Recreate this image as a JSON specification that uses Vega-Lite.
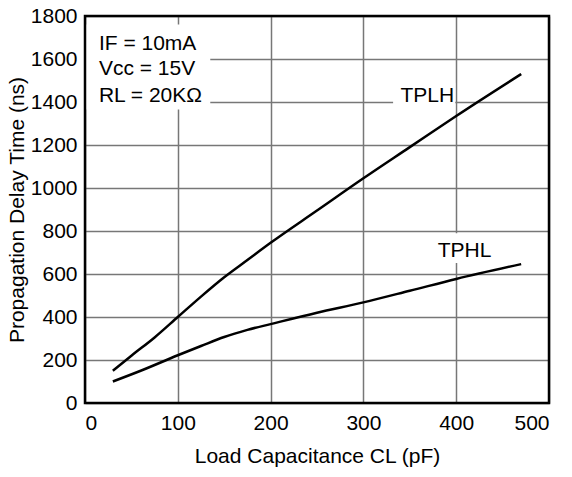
{
  "$schema": "https://vega.github.io/schema/vega-lite/v6.json",
  "autosize": {"type": "none"},
  "width": 464,
  "height": 387,
  "padding": {"left": 85, "top": 16, "right": 23, "bottom": 74},
  "background": "white",
  "config": {
    "view": {"stroke": null},
    "font": "Liberation Sans",
    "axis": {
      "labelFont": "Liberation Sans",
      "titleFont": "Liberation Sans",
      "labelFontSize": 21,
      "titleFontSize": 21,
      "labelColor": "black",
      "titleColor": "black",
      "titleFontWeight": "normal",
      "grid": true,
      "gridColor": "#777777",
      "gridWidth": 1.5,
      "ticks": false,
      "domain": false
    }
  },
  "datasets": {
    "curves": [
      {"series": "TPLH", "cl": 30, "t": 150},
      {"series": "TPLH", "cl": 50, "t": 220},
      {"series": "TPLH", "cl": 75, "t": 305},
      {"series": "TPLH", "cl": 100, "t": 400},
      {"series": "TPLH", "cl": 125, "t": 495},
      {"series": "TPLH", "cl": 150, "t": 585},
      {"series": "TPLH", "cl": 175, "t": 665},
      {"series": "TPLH", "cl": 200, "t": 745},
      {"series": "TPLH", "cl": 250, "t": 895},
      {"series": "TPLH", "cl": 300, "t": 1045},
      {"series": "TPLH", "cl": 350, "t": 1190},
      {"series": "TPLH", "cl": 400, "t": 1335},
      {"series": "TPLH", "cl": 470, "t": 1530},
      {"series": "TPHL", "cl": 30, "t": 100},
      {"series": "TPHL", "cl": 60, "t": 150},
      {"series": "TPHL", "cl": 100, "t": 222},
      {"series": "TPHL", "cl": 125, "t": 265},
      {"series": "TPHL", "cl": 150, "t": 307},
      {"series": "TPHL", "cl": 175, "t": 340},
      {"series": "TPHL", "cl": 200, "t": 367},
      {"series": "TPHL", "cl": 250, "t": 420},
      {"series": "TPHL", "cl": 300, "t": 468},
      {"series": "TPHL", "cl": 350, "t": 522},
      {"series": "TPHL", "cl": 400, "t": 577},
      {"series": "TPHL", "cl": 470, "t": 646}
    ],
    "boxes": [
      {"x1": 0, "x2": 135, "y1": 1365, "y2": 1760},
      {"x1": 332, "x2": 399, "y1": 1355, "y2": 1490},
      {"x1": 377, "x2": 442, "y1": 651, "y2": 790}
    ],
    "labels": [
      {"text": "IF = 10mA", "x": 15, "y": 1640},
      {"text": "Vcc = 15V", "x": 15, "y": 1525},
      {"text": "RL = 20KΩ", "x": 15, "y": 1398},
      {"text": "TPLH", "x": 340, "y": 1398},
      {"text": "TPHL", "x": 380, "y": 680}
    ]
  },
  "layer": [
    {
      "data": {"name": "boxes"},
      "mark": {"type": "rect", "fill": "white", "stroke": null},
      "encoding": {
        "x": {
          "field": "x1", "type": "quantitative",
          "scale": {"domain": [0, 500], "nice": false},
          "axis": {"values": [0, 100, 200, 300, 400, 500], "format": "d", "title": "Load Capacitance CL (pF)", "labelPadding": 9, "titlePadding": 12}
        },
        "x2": {"field": "x2"},
        "y": {
          "field": "y1", "type": "quantitative",
          "scale": {"domain": [0, 1800], "nice": false},
          "axis": {"values": [0, 200, 400, 600, 800, 1000, 1200, 1400, 1600, 1800], "format": "d", "title": "Propagation Delay Time (ns)", "labelPadding": 8, "titlePadding": 3}
        },
        "y2": {"field": "y2"}
      }
    },
    {
      "data": {"name": "curves"},
      "mark": {"type": "line", "color": "black", "strokeWidth": 2.5, "interpolate": "monotone"},
      "encoding": {
        "x": {"field": "cl", "type": "quantitative"},
        "y": {"field": "t", "type": "quantitative"},
        "detail": {"field": "series"}
      }
    },
    {
      "data": {"name": "labels"},
      "mark": {"type": "text", "align": "left", "baseline": "alphabetic", "fontSize": 21, "font": "Liberation Sans", "color": "black"},
      "encoding": {
        "x": {"field": "x", "type": "quantitative"},
        "y": {"field": "y", "type": "quantitative"},
        "text": {"field": "text"}
      }
    },
    {
      "data": {"values": [{}]},
      "mark": {"type": "rect", "fill": null, "fillOpacity": 0, "stroke": "black", "strokeWidth": 2.5},
      "encoding": {
        "x": {"datum": 0},
        "x2": {"datum": 500},
        "y": {"datum": 0},
        "y2": {"datum": 1800}
      }
    }
  ]
}
